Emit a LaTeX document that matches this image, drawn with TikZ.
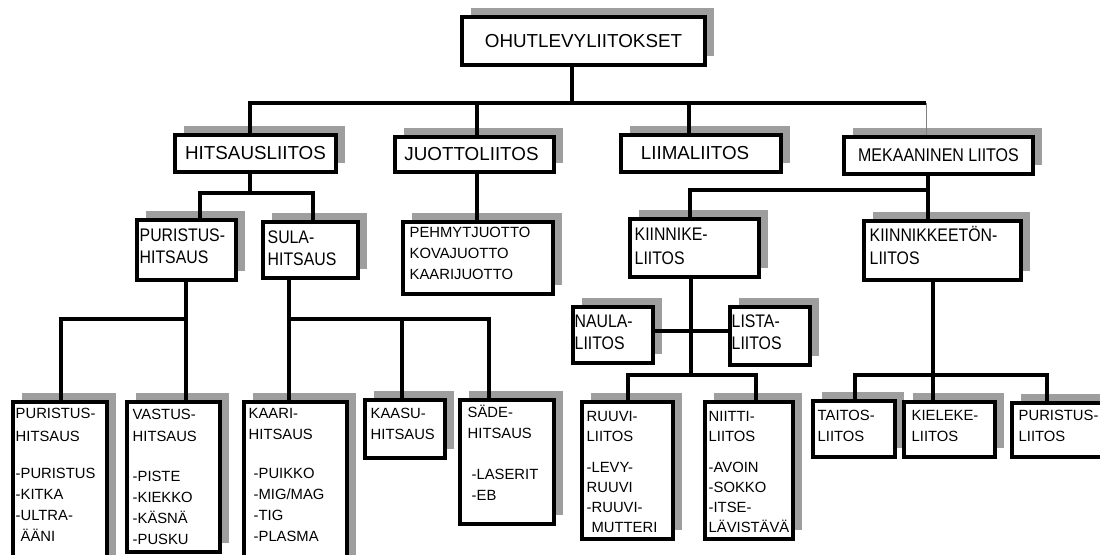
\documentclass[tikz,border=0pt]{standalone}
\usepackage{fontspec}
\setmainfont{Liberation Sans}
\newfontfamily\tallfont[FakeStretch=0.87]{Liberation Sans}
\usetikzlibrary{fit,shadows}

\definecolor{shade}{gray}{0.62}
\newcommand\fbig{\fontsize{9.4}{11}\selectfont}
\newcommand\fmid{\tallfont\fontsize{9.1}{11}\selectfont}
\newcommand\fsml{\fontsize{7.4}{10.5}\selectfont}

\tikzset{
  plate/.style={draw, line width=1.7pt, fill=white, inner sep=0pt,
    general shadow={fill=shade, shadow xshift=4.5pt, shadow yshift=4.5pt}},
  txt/.style={inner sep=0pt, align=left, anchor=north west},
  link/.style={line width=1.7pt},
}

\begin{document}
\begin{tikzpicture}[x=0.5pt, y=-0.5pt]
\useasboundingbox (0,0) rectangle (1100,554);
\clip (0,0) rectangle (1100,554);

% top and first level
\node[plate, fit={(462,17) (705,65)}] (ohut) {};
\node[plate, fit={(175,135) (336,172)}] (hits) {};
\node[plate, fit={(395,137) (554,172)}] (juot) {};
\node[plate, fit={(621,135) (781,172)}] (liim) {};
\node[plate, fit={(844,137) (1033,174)}] (meka) {};
\node[font=\fbig] (ohut-t) at (ohut) {OHUTLEVYLIITOKSET};
\node[font=\fbig] (hits-t) at (hits) {HITSAUSLIITOS};
\node[font=\fbig] (juot-t) at ([xshift=-1.5pt]juot.center) {JUOTTOLIITOS};
\node[font=\fbig] (liim-t) at ([xshift=-3pt]liim.center) {LIIMALIITOS};
\node[font=\tallfont\fontsize{9.2}{10}\selectfont] (meka-t) at (meka) {MEKAANINEN LIITOS};

% second level
\node[plate, fit={(137,220) (236,280)}] (phit) {};
\node[plate, fit={(263,222) (358,278)}] (sula) {};
\node[plate, fit={(403,222) (553,294)}] (pehm) {};
\node[plate, fit={(630,219) (759,277)}] (kiin) {};
\node[plate, fit={(864,221) (1021,280)}] (kton) {};
\node[plate, fit={(573,307) (653,363)}] (naul) {};
\node[plate, fit={(730,307) (810,365)}] (list) {};
\node[txt, font=\fmid] (phit-t) at ([shift={(4,10)}]phit.north west) {PURISTUS-\\HITSAUS};
\node[txt, font=\fmid] (sula-t) at ([shift={(6,10)}]sula.north west) {SULA-\\HITSAUS};
\node[txt, font=\fsml] (pehm-t) at ([shift={(8,6)}]pehm.north west) {PEHMYTJUOTTO\\KOVAJUOTTO\\KAARIJUOTTO};
\node[txt, font=\tallfont\fontsize{9.1}{12}\selectfont] (kiin-t) at ([shift={(6,10)}]kiin.north west) {KIINNIKE-\\LIITOS};
\node[txt, font=\tallfont\fontsize{9.1}{11.4}\selectfont] (kton-t) at ([shift={(7,7)}]kton.north west) {KIINNIKKEETÖN-\\LIITOS};
\node[txt, font=\fmid] (naul-t) at ([shift={(3,9)}]naul.north west) {NAULA-\\LIITOS};
\node[txt, font=\fmid] (list-t) at ([shift={(3,9)}]list.north west) {LISTA-\\LIITOS};

% bottom level
\node[plate, fit={(13,402) (107,620)}] (pur) {};
\node[plate, fit={(127,402) (220,552)}] (vast) {};
\node[plate, fit={(244,402) (347,620)}] (kaar) {};
\node[plate, fit={(365,400) (445,458)}] (kaas) {};
\node[plate, fit={(460,400) (554,524)}] (sade) {};
\node[plate, fit={(582,402) (673,539)}] (ruuv) {};
\node[plate, fit={(705,402) (793,539)}] (niit) {};
\node[plate, fit={(813,401) (895,457)}] (tait) {};
\node[plate, fit={(904,402) (995,457)}] (kiel) {};
\node[plate, fit={(1012,403) (1120,457)}] (purl) {};
\node[txt, font=\fsml] (pur-t) at ([shift={(4,7)}]pur.north west)
  {PURISTUS-\\[1pt]HITSAUS\\[8pt]-PURISTUS\\-KITKA\\-ULTRA-\\\phantom{-}ÄÄNI};
\node[txt, font=\fsml] (vast-t) at ([shift={(7,8)}]vast.north west)
  {VASTUS-\\[0.5pt]HITSAUS\\[9.5pt]-PISTE\\-KIEKKO\\-KÄSNÄ\\-PUSKU};
\node[txt, font=\fsml] (kaar-t) at ([shift={(6,8)}]kaar.north west)
  {KAARI-\\HITSAUS\\[9pt]\hspace{2.5pt}-PUIKKO\\\hspace{2.5pt}-MIG/MAG\\\hspace{2.5pt}-TIG\\\hspace{2.5pt}-PLASMA};
\node[txt, font=\fsml] (kaas-t) at ([shift={(7,9)}]kaas.north west) {KAASU-\\HITSAUS};
\node[txt, font=\fsml] (sade-t) at ([shift={(9,6)}]sade.north west)
  {SÄDE-\\HITSAUS\\[10pt]\hspace{2pt}-LASERIT\\\hspace{2pt}-EB};
\node[txt, font=\fontsize{7.4}{10}\selectfont] (ruuv-t) at ([shift={(6,11)}]ruuv.north west)
  {RUUVI-\\LIITOS\\[5.5pt]-LEVY-\\RUUVI\\-RUUVI-\\\phantom{-}MUTTERI};
\node[txt, font=\fontsize{7.4}{10}\selectfont] (niit-t) at ([shift={(5,11)}]niit.north west)
  {NIITTI-\\LIITOS\\[5.5pt]-AVOIN\\-SOKKO\\-ITSE-\\LÄVISTÄVÄ};
\node[txt, font=\fsml] (tait-t) at ([shift={(6,10)}]tait.north west) {TAITOS-\\LIITOS};
\node[txt, font=\fsml] (kiel-t) at ([shift={(9,10)}]kiel.north west) {KIELEKE-\\LIITOS};
\node[txt, font=\fsml] (purl-t) at ([shift={(8,8)}]purl.north west) {PURISTUS-\\LIITOS};

% connectors
\coordinate (bus0) at (572,103);
\draw[link] (ohut.south -| bus0) -- (bus0);
\draw[link] (hits.north -| 250,0) |- (926,103);
\draw[link] (juot.north -| 477,0) -- (477,103);
\draw[link] (liim.north -| 689,0) -- (689,103);
\draw[gray, thin] (926,103) -- (meka.north -| 926,0);

\coordinate (bus1) at (250,193);
\draw[link] (hits.south -| bus1) -- (bus1);
\draw[link] (phit.north -| 200,0) |- (313,193) -- (sula.north -| 313,0);
\draw[link] (juot.south -| 477,0) -- (pehm.north -| 477,0);

\coordinate (bus2) at (928,190);
\draw[link] (meka.south -| bus2) -- (bus2);
\draw[link] (kiin.north -| 690,0) |- (bus2) -- (kton.north -| bus2);

\coordinate (bus3) at (691,331);
\draw[link] (kiin.south -| bus3) -- (691,375);
\draw[link] (naul.east |- bus3) -- (list.west |- bus3);
\draw[link] (ruuv.north -| 628,0) |- (756,375) -- (niit.north -| 756,0);

\coordinate (bus4) at (933,375);
\draw[link] (kton.south -| bus4) -- (bus4);
\draw[link] (tait.north -| 855,0) |- (1047,375) -- (purl.north -| 1047,0);
\draw[link] (bus4) -- (kiel.north -| bus4);

\coordinate (bus5) at (186,319);
\draw[link] (phit.south -| bus5) -- (bus5);
\draw[link] (pur.north -| 61,0) |- (bus5) -- (vast.north -| bus5);

\coordinate (bus6) at (289,319);
\draw[link] (sula.south -| bus6) -- (bus6);
\draw[link] (kaar.north -| bus6) -- (bus6) -- (489,319) -- (sade.north -| 489,0);
\draw[link] (402,319) -- (kaas.north -| 402,0);
\end{tikzpicture}
\end{document}
